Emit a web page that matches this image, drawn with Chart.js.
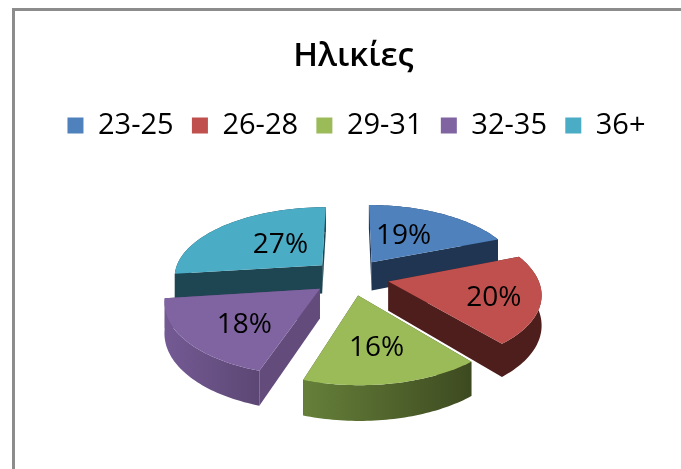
<!DOCTYPE html>
<html lang="el">
<head>
<meta charset="utf-8">
<title>Ηλικίες</title>
<script src="https://cdn.jsdelivr.net/npm/chart.js@4"></script>
<style>
  html, body { margin: 0; padding: 0; background: #fff; overflow: hidden; }
  #frame {
    position: absolute; left: 12px; top: 8px; width: 700px; height: 500px;
    border-left: 3px solid #8c8c8c; border-top: 3px solid #8c8c8c;
  }
  #chart { position: absolute; left: 0; top: 0; filter: blur(0.4px); }
</style>
</head>
<body>
<div id="frame"></div>
<canvas id="chart" width="681" height="469"></canvas>
<script>
  // Data
  const chartTitle = "Ηλικίες";
  const categories = ["23-25", "26-28", "29-31", "32-35", "36+"];
  const percentages = [19, 20, 16, 18, 27];

  // Colours per slice
  const topColors = ["#4f81bd", "#c0504d", "#9bbb59", "#8064a2", "#4bacc6"];
  const sideColors = ["#1f3552", "#4d1e1c", "#3f4d20", "#634c7c", "#1e4552"];
  const wallLeftColors = ["#1f3552", "#4d1e1c", "#66803a", "#745a94", "#1e4552"];
  const wallRightColors = ["#1f3552", "#4d1e1c", "#3d4a20", "#5c4774", "#1e4552"];

  // Percent label placement inside each slice
  const labelRadii = [0.52, 0.7, 0.61, 0.62, 0.47];
  const labelAngleShift = [-6, 2, 1, -4, 7];
  const labelDrop = 2;

  // Tilted view of the pie
  const explode = 0.26;
  const stretchX = 149;
  const stretchY = 70;
  const perspective = 0.15;
  const thickness = 29;
  const shiftX = -3;
  const legendShift = 3;
  const drawOrder = [0, 4, 1, 3, 2];

  const pie3d = {
    id: "pie3d",
    // move the legend a little right of the title, as in the original
    afterLayout(chart) {
      chart.legend.left += legendShift;
      chart.legend.right += legendShift;
    },
    // the flat arcs are replaced by the tilted ones, using the arc angles
    beforeDatasetsDraw(chart) {
      const ctx = chart.ctx;
      const arcs = chart.getDatasetMeta(0).data;

      const project = (arc, mid, angle, r, drop) => {
        const u = r * Math.sin(angle) + explode * Math.sin(mid);
        const v = -r * Math.cos(angle) - explode * Math.cos(mid);
        const w = 1 - perspective * v;
        return {
          x: arc.x + shiftX + (stretchX * u) / w,
          y: arc.y + (stretchY * v) / w + drop / w,
        };
      };

      const fillPath = (points, fill) => {
        ctx.beginPath();
        points.forEach((p, n) => (n ? ctx.lineTo(p.x, p.y) : ctx.moveTo(p.x, p.y)));
        ctx.closePath();
        ctx.fillStyle = fill;
        ctx.fill();
      };

      drawOrder.forEach((i) => {
        const arc = arcs[i];
        const start = arc.startAngle + Math.PI / 2;
        const end = arc.endAngle + Math.PI / 2;
        const mid = (start + end) / 2;
        const at = (angle, r, drop) => project(arc, mid, angle, r, drop);

        const steps = 48;
        const topEdge = [];
        const bottomEdge = [];
        for (let s = 0; s <= steps; s++) {
          const angle = start + ((end - start) * s) / steps;
          topEdge.push(at(angle, 1, 0));
          bottomEdge.push(at(angle, 1, thickness));
        }

        // radial side faces
        [start, end].forEach((angle) => {
          fillPath(
            [at(0, 0, 0), at(angle, 1, 0), at(angle, 1, thickness), at(0, 0, thickness)],
            sideColors[i]
          );
        });

        // outer wall
        const xs = topEdge.map((p) => p.x);
        const wall = ctx.createLinearGradient(Math.min(...xs), 0, Math.max(...xs), 0);
        wall.addColorStop(0, wallLeftColors[i]);
        wall.addColorStop(1, wallRightColors[i]);
        fillPath(topEdge.concat(bottomEdge.slice().reverse()), wall);

        // top surface
        fillPath([at(0, 0, 0)].concat(topEdge), topColors[i]);
      });

      // percent labels
      ctx.fillStyle = "#000";
      ctx.font = "28px 'Open Sans'";
      ctx.textAlign = "center";
      ctx.textBaseline = "middle";
      arcs.forEach((arc, i) => {
        const start = arc.startAngle + Math.PI / 2;
        const end = arc.endAngle + Math.PI / 2;
        const mid = (start + end) / 2;
        const angle = mid + (labelAngleShift[i] * Math.PI) / 180;
        const p = project(arc, mid, angle, labelRadii[i], labelDrop);
        ctx.fillText(percentages[i] + "%", p.x, p.y);
      });

      return false;
    },
  };

  new Chart(document.getElementById("chart").getContext("2d"), {
    type: "pie",
    data: {
      labels: categories,
      datasets: [{ data: percentages, backgroundColor: topColors, borderWidth: 0 }],
    },
    options: {
      responsive: false,
      animation: false,
      layout: { padding: { left: 26, right: 0, top: 0, bottom: 65 } },
      plugins: {
        title: {
          display: true,
          text: chartTitle,
          color: "#000",
          font: { family: "'Open Sans'", size: 33, weight: "600" },
          padding: { top: 37, bottom: 16 },
        },
        legend: {
          position: "top",
          labels: {
            color: "#000",
            font: { family: "'Open Sans'", size: 29 },
            boxWidth: 16,
            boxHeight: 16,
            padding: 18.3,
          },
        },
        tooltip: { enabled: false },
      },
    },
    plugins: [pie3d],
  });
</script>
</body>
</html>
